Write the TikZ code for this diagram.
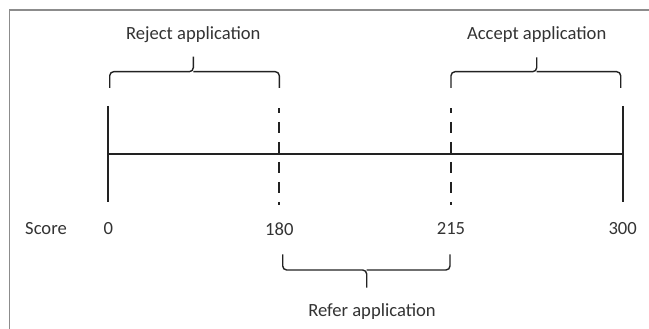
\documentclass[tikz,border=0pt]{standalone}
\usepackage{fontspec}
\setmainfont{Carlito}
\definecolor{inkgray}{HTML}{222222}
\definecolor{textgray}{HTML}{333333}
\definecolor{framegray}{HTML}{8C8C8C}
\begin{document}
\begin{tikzpicture}[x=1pt,y=-1pt,
  every node/.style={font=\fontsize{18.6}{22}\selectfont, text=textgray, inner sep=0pt},
  axisline/.style={draw=inkgray, line width=2pt},
  cutoff/.style={draw=inkgray, line width=2pt, dash pattern=on 11.5pt off 8.5pt, dash phase=6.5pt},
  bracket/.style={draw=inkgray, line width=1.4pt, rounded corners=4pt}]
	\useasboundingbox (0,0) rectangle (649,329);
	\draw[framegray, line width=1.5pt] (9.5,329) -- (9.5,10) -- (649,10);
	
	% scale and ticks
	\coordinate (A) at (108.3,154);
	\coordinate (B) at (622.7,154);
	\coordinate (T0a) at (108.3,106); \coordinate (T0b) at (108.3,202);
	\coordinate (T1a) at (279.3,108.3); \coordinate (T1b) at (279.3,205);
	\coordinate (T2a) at (451,108.3); \coordinate (T2b) at (451,205);
	\coordinate (T3a) at (622.7,106); \coordinate (T3b) at (622.7,202);
	
	\draw[axisline] (A) -- (B);
	\draw[axisline] (T0a) -- (T0b);
	\draw[cutoff] (T1a) -- (T1b);
	\draw[cutoff] (T2a) -- (T2b);
	\draw[axisline] (T3a) -- (T3b);
	
	\node (score) at (46,229) {Score};
	\node (s0) at (108.3,229) {0};
	\node (s180) at (279.3,229) {180};
	\node (s215) at (451,229) {215};
	\node (s300) at (622.7,229) {300};
	
	% decision bands
	\draw[bracket] (109.7,88) |- (193.3,71.7) -- (193.3,56.7);
	\draw[bracket] (279.3,88) |- (193.3,71.7);
	\node (reject) at (193.3,35) {Reject application};
	
	\draw[bracket] (451,88) |- (536.7,71.7) -- (536.7,57.5);
	\draw[bracket] (620.7,88) |- (536.7,71.7);
	\node (accept) at (536.7,35) {Accept application};
	
	\draw[bracket] (282.7,254.3) |- (366.7,270) -- (366.7,287.7);
	\draw[bracket] (450,254.3) |- (366.7,270);
	\node (refer) at (372,311.7) {Refer application};
\end{tikzpicture}
\end{document}
